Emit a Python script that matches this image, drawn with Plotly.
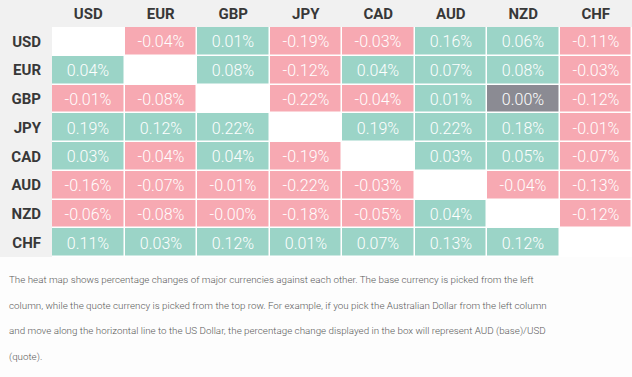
import plotly.graph_objects as go
import numpy as np

currencies = ["USD", "EUR", "GBP", "JPY", "CAD", "AUD", "NZD", "CHF"]

# rows = base currency, columns = quote currency; None = diagonal (empty)
values = [
    [None, -0.04, 0.01, -0.19, -0.03, 0.16, 0.06, -0.11],
    [0.04, None, 0.08, -0.12, 0.04, 0.07, 0.08, -0.03],
    [-0.01, -0.08, None, -0.22, -0.04, 0.01, 0.00, -0.12],
    [0.19, 0.12, 0.22, None, 0.19, 0.22, 0.18, -0.01],
    [0.03, -0.04, 0.04, -0.19, None, 0.03, 0.05, -0.07],
    [-0.16, -0.07, -0.01, -0.22, -0.03, None, -0.04, -0.13],
    [-0.06, -0.08, -0.0, -0.18, -0.05, 0.04, None, -0.12],
    [0.11, 0.03, 0.12, 0.01, 0.07, 0.13, 0.12, None],
]

description = [
    "The heat map shows percentage changes of major currencies against each other. The base currency is picked from the left",
    "column, while the quote currency is picked from the top row. For example, if you pick the Australian Dollar from the left column",
    "and move along the horizontal line to the US Dollar, the percentage change displayed in the box will represent AUD (base)/USD",
    "(quote).",
]

# colour codes: 0 empty, 1 negative, 2 positive, 3 unchanged
codes = []
texts = []
for row in values:
    crow, trow = [], []
    for v in row:
        if v is None:
            crow.append(0); trow.append("")
        else:
            if np.signbit(v):
                crow.append(1)
            elif v == 0:
                crow.append(3)
            else:
                crow.append(2)
            trow.append(f"{v:.2f}%")
    codes.append(crow)
    texts.append(trow)

WHITE = "#ffffff"
PINK = "#f7a9b2"
TEAL = "#9bd4c7"
GRAY = "#8b8b93"

fig = go.Figure(go.Heatmap(
    z=codes,
    x=currencies,
    y=currencies,
    text=texts,
    texttemplate="%{text}",
    textfont=dict(family="Roboto", size=16, color="#ffffff", weight=300),
    colorscale=[[0, WHITE], [1/3, PINK], [2/3, TEAL], [1, GRAY]],
    zmin=0, zmax=3,
    showscale=False,
    xgap=1.5, ygap=1.5,
    hoverinfo="skip",
))

W, H = 632, 377
ML, MR, MT, MB = 52, 0, 27, 120
PH = H - MT - MB

fig.update_layout(
    width=W, height=H,
    margin=dict(l=ML, r=MR, t=MT, b=MB, autoexpand=False),
    paper_bgcolor="#f1f1f1",
    plot_bgcolor="#ffffff",
    xaxis=dict(side="top", showgrid=False, zeroline=False, ticks="",
               tickfont=dict(family="Roboto", size=15, color="#383838", weight="bold"),
               ticklabelstandoff=4, fixedrange=True),
    yaxis=dict(autorange="reversed", showgrid=False, zeroline=False, ticks="",
               tickfont=dict(family="Roboto", size=15, color="#383838", weight="bold"),
               ticklabelstandoff=10, fixedrange=True),
    shapes=[dict(type="rect", xref="paper", yref="paper",
                 x0=-ML / 580, x1=1.01, y0=-MB / PH - 0.01, y1=0,
                 fillcolor="#fdfdfd", line=dict(width=0), layer="above")],
)

line_px = [279, 305, 331, 357]
for line, py in zip(description, line_px):
    fig.add_annotation(
        text=line, xref="paper", yref="paper",
        x=(7 - ML) / (W - ML - MR), y=(H - MB - py) / PH,
        xanchor="left", yanchor="middle", showarrow=False,
        font=dict(family="Roboto", size=9.8, color="#5a5a5a", weight=300),
    )

fig.write_html("out.html", config={"displayModeBar": False},
               post_script="document.body.style.margin='0';document.body.style.padding='0';")
